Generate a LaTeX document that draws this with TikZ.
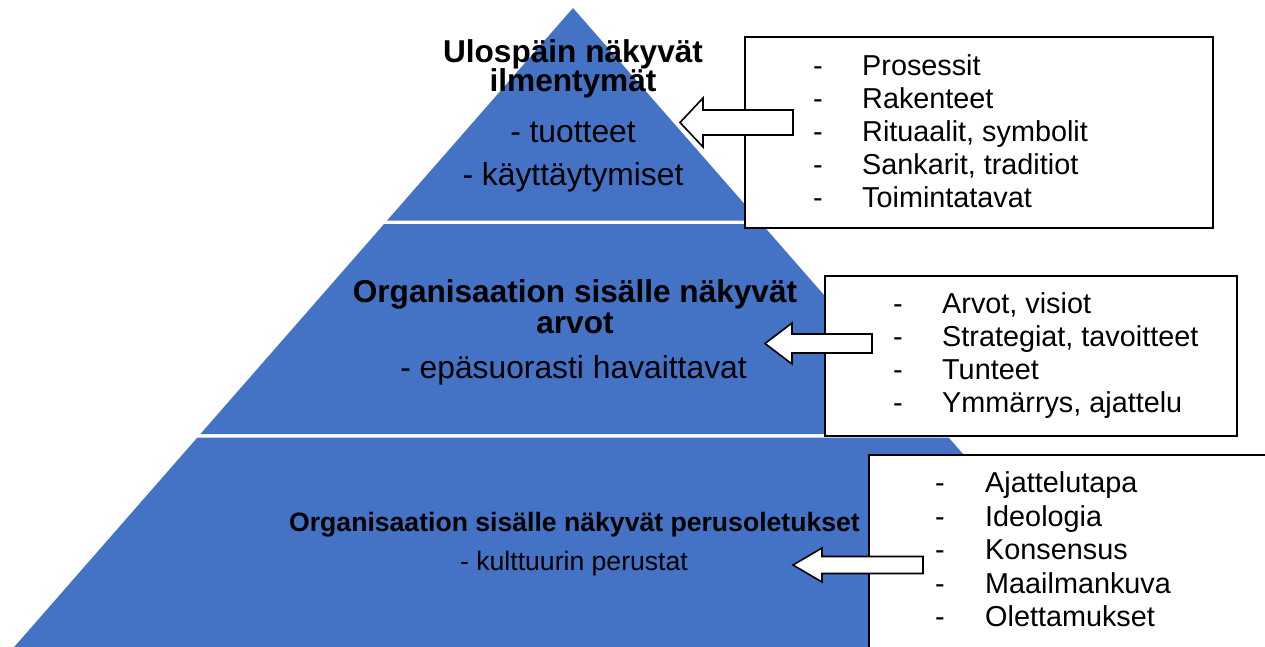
\documentclass[tikz,border=0pt]{standalone}
\usepackage{fontspec}
\setmainfont{Liberation Sans}
\definecolor{pyr}{HTML}{4472C4}
\tikzset{
  band/.style={fill=pyr, draw=none},
  listbox/.style={draw=black, line width=1.6pt, fill=white, inner sep=0pt},
  barrow/.style={draw=black, line width=1.6pt, fill=white, line join=miter},
  bighead/.style={anchor=base, inner sep=0pt, font=\bfseries\fontsize{31.6}{32}\selectfont},
  bigtext/.style={anchor=base, inner sep=0pt, font=\fontsize{31.8}{32}\selectfont},
  smallhead/.style={anchor=base, inner sep=0pt, font=\bfseries\fontsize{26.6}{27}\selectfont},
  smalltext/.style={anchor=base, inner sep=0pt, font=\fontsize{26.6}{27}\selectfont},
  item/.style={anchor=base west, inner sep=0pt, font=\fontsize{28.8}{29}\selectfont},
}
\begin{document}
\begin{tikzpicture}[x=1pt,y=-1pt]
\useasboundingbox (0,0) rectangle (1265,646);
\clip (0,0) rectangle (1265,646);

% pyramid bands
\fill[band] (573,8) -- (758.9,220.5) -- (387.1,220.5) -- cycle;
\fill[band] (384.1,224) -- (761.9,224) -- (945.6,434) -- (200.4,434) -- cycle;
\fill[band] (197.4,437.5) -- (948.6,437.5) -- (1143.2,660) -- (2.8,660) -- cycle;

% pyramid texts
\node[bighead] (t1) at (573,62) {Ulospäin näkyvät};
\node[bighead] (t2) at (573,91.5) {ilmentymät};
\node[bigtext] (t3) at (573,142) {- tuotteet};
\node[bigtext] (t4) at (573,185) {- käyttäytymiset};

\node[bighead] (m1) at (575,302) {Organisaation sisälle näkyvät};
\node[bighead] (m2) at (575,333) {arvot};
\node[bigtext] (m3) at (573.5,378) {- epäsuorasti havaittavat};

\node[smallhead] (u1) at (574.5,531) {Organisaation sisälle näkyvät perusoletukset};
\node[smalltext] (u2) at (574,570) {- kulttuurin perustat};

% boxes
\node[listbox, minimum width=468pt, minimum height=191pt] (b1) at (979,132.5) {};
\node[listbox, minimum width=412pt, minimum height=160pt] (b2) at (1031,356) {};
\node[listbox, minimum width=411pt, minimum height=205pt] (b3) at (1074.5,557.5) {};

% box 1 items
\node[item] (d11) at (813,75) {-};    \node[item] (i11) at (862,75) {Prosessit};
\node[item] (d12) at (813,108.2) {-}; \node[item] (i12) at (862,108.2) {Rakenteet};
\node[item] (d13) at (813,141.4) {-}; \node[item] (i13) at (862,141.4) {Rituaalit, symbolit};
\node[item] (d14) at (813,174.6) {-}; \node[item] (i14) at (862,174.6) {Sankarit, traditiot};
\node[item] (d15) at (813,207.8) {-}; \node[item] (i15) at (862,207.8) {Toimintatavat};

% box 2 items
\node[item] (d21) at (893,313) {-};   \node[item] (i21) at (942,313) {Arvot, visiot};
\node[item] (d22) at (893,346.3) {-}; \node[item] (i22) at (942,346.3) {Strategiat, tavoitteet};
\node[item] (d23) at (893,379.6) {-}; \node[item] (i23) at (942,379.6) {Tunteet};
\node[item] (d24) at (893,412.9) {-}; \node[item] (i24) at (942,412.9) {Ymmärrys, ajattelu};

% box 3 items
\node[item] (d31) at (935,492.5) {-}; \node[item] (i31) at (985,492.5) {Ajattelutapa};
\node[item] (d32) at (935,526) {-};   \node[item] (i32) at (985,526) {Ideologia};
\node[item] (d33) at (935,559.5) {-}; \node[item] (i33) at (985,559.5) {Konsensus};
\node[item] (d34) at (935,593) {-};   \node[item] (i34) at (985,593) {Maailmankuva};
\node[item] (d35) at (935,626.5) {-}; \node[item] (i35) at (985,626.5) {Olettamukset};

% block arrows
\coordinate (a1) at (680,122.5);
\coordinate (a2) at (765,343.5);
\coordinate (a3) at (793,565);
\draw[barrow] (a1) -- ++(23,-24.5) -- ++(0,12) -- ++(90,0) -- ++(0,25) -- ++(-90,0) -- ++(0,12) -- cycle;
\draw[barrow] (a2) -- ++(27,-20.5) -- ++(0,11) -- ++(80,0) -- ++(0,19) -- ++(-80,0) -- ++(0,11) -- cycle;
\draw[barrow] (a3) -- ++(29,-17) -- ++(0,8.5) -- ++(101,0) -- ++(0,17) -- ++(-101,0) -- ++(0,8.5) -- cycle;
\end{tikzpicture}
\end{document}
